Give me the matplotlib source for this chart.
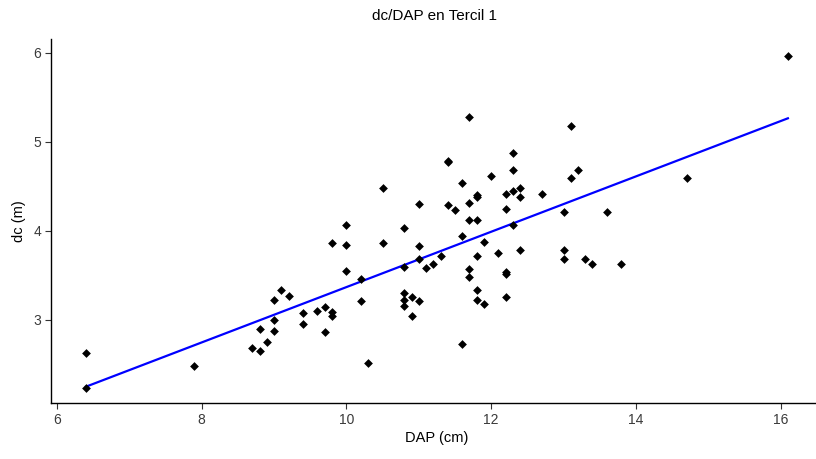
import numpy as np
import matplotlib
matplotlib.use("Agg")
import matplotlib.pyplot as plt

dap = [6.4, 6.4, 7.9, 8.7, 8.8, 8.9, 8.8, 9.0, 9.0, 9.0, 9.1, 9.2, 9.4, 9.4,
       9.6, 9.7, 9.8, 9.8, 9.7, 10.0, 9.8, 10.0, 10.0, 10.2, 10.2, 10.3, 10.5,
       10.5, 10.8, 10.8, 10.8, 10.8, 10.8, 10.9, 11.0, 10.9, 11.0, 11.0, 11.0,
       11.1, 11.2, 11.3, 11.4, 11.4, 11.4, 11.5, 11.6, 11.6, 11.6, 11.7, 11.7,
       11.8, 11.8, 11.7, 11.8, 11.9, 11.8, 11.7, 11.7, 11.8, 11.8, 11.9, 12.0,
       12.1, 12.2, 12.2, 12.3, 12.3, 12.3, 12.4, 12.4, 12.3, 12.4, 12.2, 12.2,
       12.2, 12.7, 13.1, 13.2, 13.1, 13.0, 13.0, 13.0, 13.3, 13.4, 13.8, 13.6,
       14.7, 16.1]
dc = [2.63, 2.24, 2.48, 2.69, 2.65, 2.75, 2.90, 2.88, 3.00, 3.23, 3.34, 3.27,
      3.08, 2.95, 3.10, 3.15, 3.09, 3.04, 2.87, 4.07, 3.86, 3.84, 3.55, 3.46,
      3.21, 2.52, 4.48, 3.86, 4.03, 3.59, 3.30, 3.23, 3.16, 3.26, 3.21, 3.04,
      4.30, 3.83, 3.68, 3.58, 3.63, 3.72, 4.77, 4.79, 4.29, 4.24, 4.54, 3.94,
      2.73, 5.28, 4.31, 4.40, 4.38, 4.12, 4.12, 3.88, 3.72, 3.57, 3.48, 3.34,
      3.22, 3.18, 4.62, 3.75, 4.25, 4.42, 4.88, 4.69, 4.45, 4.48, 4.38, 4.07,
      3.79, 3.54, 3.52, 3.26, 4.41, 5.18, 4.69, 4.59, 4.21, 3.79, 3.69, 3.68,
      3.63, 3.63, 4.21, 4.59, 5.97]
x_ticks = [6, 8, 10, 12, 14, 16]
y_ticks = [3, 4, 5, 6]

x = np.array(dap)
y = np.array(dc)
slope, intercept = np.polyfit(x, y, 1)
xl = np.array([x.min(), x.max()])

plt.rcParams['font.family'] = ['Liberation Sans', 'DejaVu Sans']
fig = plt.figure(figsize=(8.16, 4.59), dpi=100)
ax = fig.add_axes([50.8/816, 1-403.3/459, (823-50.8)/816, (403.3-39.1)/459])
ax.plot(xl, intercept + slope*xl, color='#0000ff', lw=1.6, zorder=2)
ax.scatter(x, y, marker='D', s=20, color='black', zorder=3, linewidths=0)

ax.set_xlim(5.915, 16.585)
ax.set_ylim(2.064, 6.156)
ax.set_xticks(x_ticks)
ax.set_yticks(y_ticks)
for s in ['top', 'right']:
    ax.spines[s].set_visible(False)
for s in ['left', 'bottom']:
    ax.spines[s].set_linewidth(1.0)
    ax.spines[s].set_color('black')
ax.tick_params(axis='both', length=4, width=0.8, color='#333333',
               labelcolor='#3a3a3a', labelsize=10, pad=3)
ax.set_xlabel('DAP (cm)', fontsize=10.5, labelpad=3)
ax.set_ylabel('dc (m)', fontsize=10.5, labelpad=5)
fig.text(434/816, 1-16/459, 'dc/DAP en Tercil 1', ha='center', va='center', fontsize=11)
fig.savefig('out.png', dpi=100)
